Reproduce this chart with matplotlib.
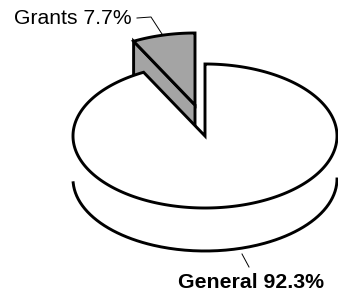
import matplotlib
matplotlib.use("Agg")
import matplotlib.pyplot as plt
from matplotlib.patches import Polygon
import numpy as np

# data
labels = ["General", "Grants"]
shares = [92.3, 7.7]
label_text = ["General 92.3%", "Grants 7.7%"]

# geometry of the 3d pie (pixel space)
cx, cy = 205, 136
rx, ry = 132, 72
depth = 43
grant_off = (-10, -31)
lw = 2.1
gray = "#a4a4a4"

def pt(c, th):
    t = np.radians(th)
    return np.array([c[0] + rx * np.cos(t), c[1] - ry * np.sin(t)])

def arc(c, a0, a1, n=200):
    th = np.linspace(a0, a1, n)
    return np.array([pt(c, t) for t in th])

fig = plt.figure(figsize=(3.38, 2.95), dpi=100)
ax = fig.add_axes([0, 0, 1, 1])
ax.set_xlim(0, 338)
ax.set_ylim(295, 0)
ax.axis("off")

start = 90.0
span_grants = 360.0 * shares[1] / sum(shares)
a_g0, a_g1 = start, start + span_grants       # grants
a_m0, a_m1 = a_g1, start + 360.0              # general

# grants slice (exploded, sits behind)
gc = np.array([cx + grant_off[0], cy + grant_off[1]])
p_out = pt(gc, a_g1)
cut = np.array([gc, p_out, p_out + [0, depth], gc + [0, depth]])
ax.add_patch(Polygon(cut, closed=True, facecolor=gray, edgecolor="black", lw=lw, joinstyle="miter", zorder=1))
top_g = np.vstack([gc, arc(gc, a_g0, a_g1)])
ax.add_patch(Polygon(top_g, closed=True, facecolor=gray, edgecolor="black", lw=lw, joinstyle="miter", zorder=2))

# general slice: side wall
c = np.array([cx, cy])
upper = arc(c, 180, 360)
lower = upper + [0, depth]
ax.add_patch(Polygon(np.vstack([upper, lower[::-1]]), closed=True, facecolor="white", edgecolor="none", zorder=3))
low_line = arc(c, 183, 360) + [0, depth]
ax.plot(low_line[:, 0], low_line[:, 1], color="black", lw=lw, zorder=4)

# general slice: top
top_m = np.vstack([c, arc(c, a_m0, a_m1, 400)])
ax.add_patch(Polygon(top_m, closed=True, facecolor="white", edgecolor="black", lw=lw, joinstyle="miter", zorder=5))

# labels with leader lines
ax.text(14, 18, label_text[1], fontsize=15.2, family="Liberation Sans", ha="left", va="center")
ax.plot([137, 151, 162], [18, 17, 34], color="black", lw=0.7)

ax.text(178, 282, label_text[0], fontsize=15.3, family="Liberation Sans", fontweight="bold", ha="left", va="center")
ax.plot([242, 249], [254, 267], color="black", lw=0.7)

fig.savefig("out.png", dpi=100)
